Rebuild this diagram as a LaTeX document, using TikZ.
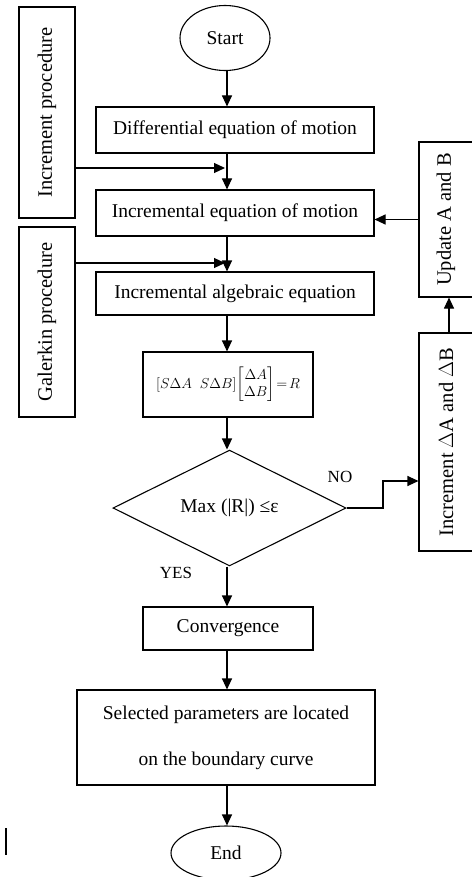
\documentclass[tikz,border=0pt]{standalone}
\usepackage{amsmath}
\usepackage{fontspec}
\setmainfont{Liberation Serif}
\usetikzlibrary{shapes.geometric,arrows.meta}

\begin{document}
\begin{tikzpicture}[x=1pt,y=-1pt, line width=1.1pt,
  every node/.style={font=\fontsize{19.5}{23}\selectfont, inner sep=0pt},
  stepbox/.style={draw, rectangle},
  sidebox/.style={draw, rectangle, rotate=90, font=\fontsize{20.5}{24}\selectfont},
  terminal/.style={draw, ellipse},
  test/.style={draw, diamond},
  flow/.style={-{Triangle[length=11pt,width=10pt]}}]
  \useasboundingbox (0,0) rectangle (471,877);
  % main column
  \node[terminal,minimum width=90,minimum height=65] (start) at (225,38) {Start};
  \node[stepbox,minimum width=278,minimum height=46] (diffeq) at (235,130) {Differential equation of motion};
  \node[stepbox,minimum width=278,minimum height=46] (incmot) at (235,213) {Incremental equation of motion};
  \node[stepbox,minimum width=278,minimum height=43] (incalg) at (235,293.5) {Incremental algebraic equation};
  \node[stepbox,minimum width=170,minimum height=65,font=\fontsize{14.5}{17}\selectfont] (system) at (228,384.5)
    {$[S\Delta A\;\; S\Delta B]\!\begin{bmatrix}\Delta A\\ \Delta B\end{bmatrix}\!=\!R$};
  \node[test,minimum width=233,minimum height=84] (check) at (229.5,508) {Max (|R|) ≤ε};
  \node[stepbox,minimum width=170,minimum height=43] (conv) at (228,628.5) {Convergence};
  \node[stepbox,minimum width=298,minimum height=95,align=center,font=\fontsize{19.5}{46}\selectfont] (located) at (226,737.5)
    {Selected parameters are located\\on the boundary curve};
  \node[terminal,minimum width=110,minimum height=54] (stop) at (226,853) {End};
  % side boxes
  \node[sidebox,minimum width=211,minimum height=56] (incproc) at (47,112.5) {Increment procedure};
  \node[sidebox,minimum width=190,minimum height=56] (galerkin) at (47,322) {Galerkin procedure};
  \node[sidebox,minimum width=155,minimum height=54] (update) at (446,219.5) {Update A and B};
  \node[sidebox,minimum width=218,minimum height=54] (incdelta) at (446,442) {Increment $\Delta$A and $\Delta$B};
  % labels
  \node[font=\fontsize{17}{20}\selectfont] (no) at (340,477) {NO};
  \node[font=\fontsize{17}{20}\selectfont] (yes) at (176,573) {YES};
  % joins
  \coordinate (axis) at (227,0);
  \coordinate (j1) at (225,168);
  \coordinate (j2) at (225,263);
  \coordinate (nojoin) at (383,481);
  % main flow, all on one vertical line
  \draw[flow] (start.south -| axis) -- (diffeq.north -| axis);
  \draw[flow] (diffeq.south -| axis) -- (incmot.north -| axis);
  \draw[flow] (incmot.south -| axis) -- (incalg.north -| axis);
  \draw[flow] (incalg.south -| axis) -- (system.north -| axis);
  \draw[flow] (system.south -| axis) -- (check.north -| axis);
  \draw[flow] (check.south -| axis) -- (conv.north -| axis);
  \draw[flow] (conv.south -| axis) -- (located.north -| axis);
  \draw[flow] (located.south -| axis) -- (stop.north -| axis);
  % side inputs
  \draw[flow] (incproc.south |- j1) -- (j1);
  \draw[flow] (galerkin.south |- j2) -- (j2);
  % loop back
  \draw[flow] (check.east) -| (nojoin) -- (nojoin -| incdelta.north);
  \draw[flow] ([xshift=3pt]incdelta.east) -- ([xshift=3pt]incdelta.east |- update.west);
  \draw[flow] (update.north) -- (update.north -| incmot.east);
  % stray mark
  \draw[line width=1.5pt] (6,828) -- (6,855);
\end{tikzpicture}
\end{document}
